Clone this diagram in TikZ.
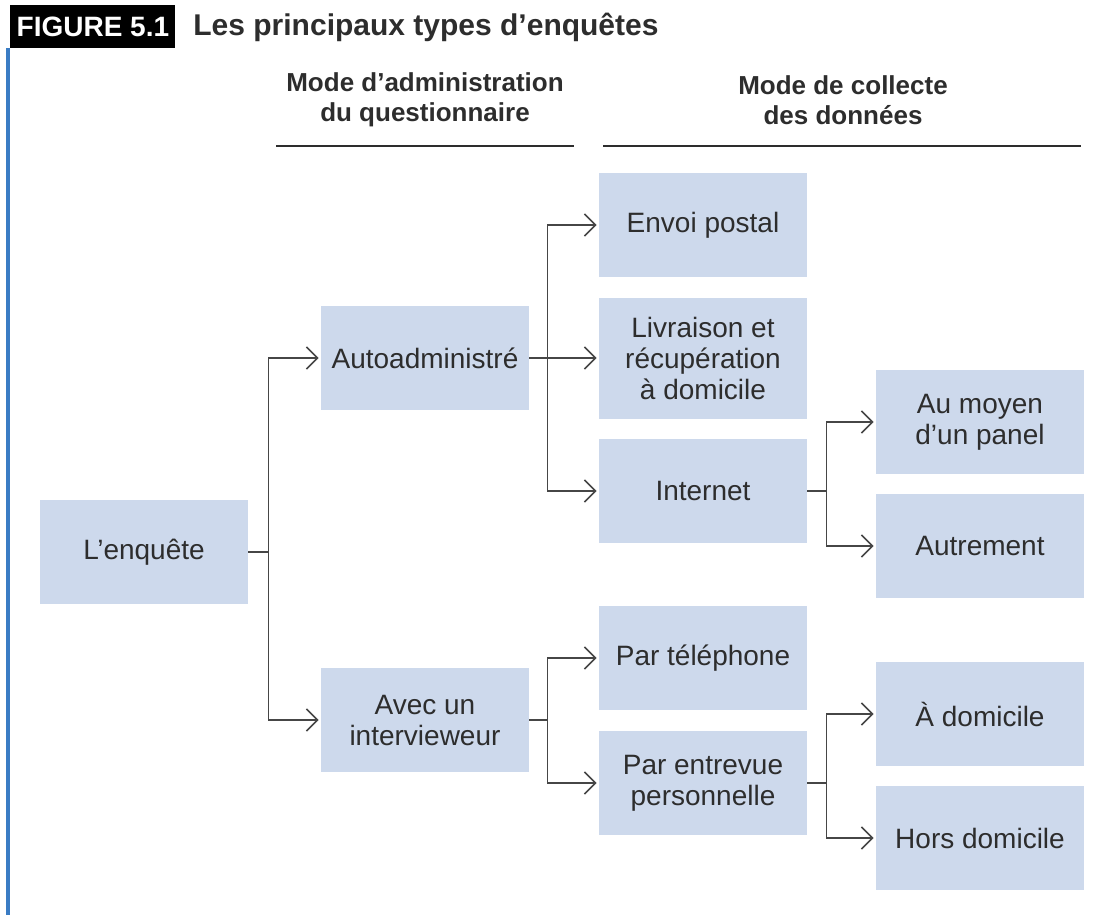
\documentclass[tikz,border=0pt]{standalone}
\usepackage{fontspec}
\setmainfont{Liberation Sans}
\usetikzlibrary{arrows.meta}
\definecolor{boxblue}{RGB}{205,217,236}
\definecolor{txtgray}{RGB}{45,45,45}
\definecolor{linegray}{RGB}{70,70,70}
\definecolor{barblue}{RGB}{58,124,196}
\begin{document}
\begin{tikzpicture}[x=0.5pt, y=-0.5pt, shorten >=1pt, >={Straight Barb[length=5.5pt,width=11pt]},
  box/.style={fill=boxblue, minimum width=104pt, minimum height=52pt, inner sep=0pt, align=center, text=txtgray, font=\fontsize{14}{15.5}\selectfont},
  head/.style={align=center, text=txtgray, font=\bfseries\fontsize{13}{15}\selectfont},
  link/.style={draw=linegray, line width=0.8pt}]
\useasboundingbox (0,0) rectangle (1107,915);
% title
\fill[barblue] (6,48) rectangle (10,915);
\node[fill=black, text=white, anchor=north west, minimum width=82.5pt, minimum height=21.5pt, inner sep=0pt, font=\bfseries\fontsize{14}{16}\selectfont] (fig) at (10,5) {FIGURE 5.1};
\node[anchor=west, inner sep=0pt, text=txtgray, font=\bfseries\fontsize{15}{17}\selectfont] (title) at (193,27) {Les principaux types d’enquêtes};
% column headings
\node[head] (h1) at (425,100) {Mode d’administration\\du questionnaire};
\node[head] (h2) at (843,100) {Mode de collecte\\des données};
\draw[line width=1.3pt, txtgray] (276,146) -- (576,146);
\draw[line width=1.3pt, txtgray] (603,146) -- (1083,146);
\begin{scope}[every node/.style={box}]
\node (enq) at (144,552) {L’enquête};
\node (auto) at (425,358) {Autoadministré};
\node (avec) at (425,720) {Avec un\\intervieweur};
\node (envoi) at (703,225) {Envoi postal};
\node[minimum height=60.5pt] (livr) at (703,358) {Livraison et\\récupération\\à domicile};
\node (inter) at (703,491) {Internet};
\node (tel) at (703,658) {Par téléphone};
\node (entr) at (703,783) {Par entrevue\\personnelle};
\node (panel) at (980,422) {Au moyen\\d’un panel};
\node (autre) at (980,546) {Autrement};
\node (adom) at (980,714) {À domicile};
\node (hdom) at (980,838) {Hors domicile};
\end{scope}
\begin{scope}[link]
\draw[->] (enq.east) -- ++(20,0) |- (auto.west);
\draw[->] (enq.east) -- ++(20,0) |- (avec.west);
\draw[->] (auto.east) -- ++(18,0) |- (envoi.west);
\draw[->] (auto.east) -- (livr.west);
\draw[->] (auto.east) -- ++(18,0) |- (inter.west);
\draw[->] (avec.east) -- ++(18,0) |- (tel.west);
\draw[->] (avec.east) -- ++(18,0) |- (entr.west);
\draw[->] (inter.east) -- ++(19,0) |- (panel.west);
\draw[->] (inter.east) -- ++(19,0) |- (autre.west);
\draw[->] (entr.east) -- ++(19,0) |- (adom.west);
\draw[->] (entr.east) -- ++(19,0) |- (hdom.west);
\end{scope}
\end{tikzpicture}
\end{document}
